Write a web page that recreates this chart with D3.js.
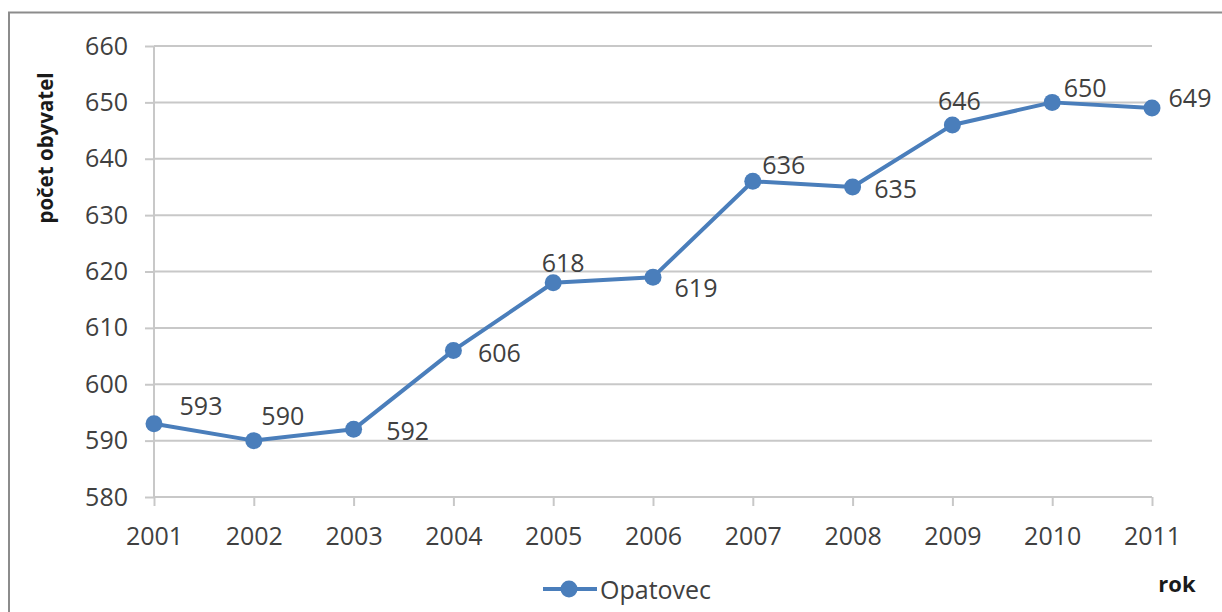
<!DOCTYPE html>
<html><head><meta charset="utf-8">
<script src="https://cdn.jsdelivr.net/npm/d3@7"></script>
<style>body{margin:0;background:#fff}svg{display:block}</style>
</head><body>
<svg id="c" width="1222" height="612"></svg>
<script>
const years = ["2001","2002","2003","2004","2005","2006","2007","2008","2009","2010","2011"];
const values = [593,590,592,606,618,619,636,635,646,650,649];
const yTicks = [580,590,600,610,620,630,640,650,660];
// data label offsets from each point (dx, dy)
const labelDx = [47, 29, 54, 46, 10, 43, 31, 43, 7, 33, 38];
const labelDy = [-19, -26, 1, 2, -21, 10, -17, 1, -25, -15, -11];
const seriesName = "Opatovec";
const yTitle = "počet obyvatel";
const xTitle = "rok";

const svg = d3.select("#c");
const font = "'Open Sans', 'Liberation Sans', sans-serif";
const color = "#4a7ebb";
const L = 154, R = 1152, T = 46, B = 497;
const fs = 25;

// outer frame
svg.append("rect").attr("x", 9).attr("y", 12.5).attr("width", 1230).attr("height", 620)
  .attr("fill", "none").attr("stroke", "#8c8c8c").attr("stroke-width", 2);

const x = d3.scalePoint().domain(years).range([L, R]);
const y = d3.scaleLinear().domain([580, 660]).range([B, T]);

// gridlines
svg.append("g").selectAll("line").data(yTicks.slice(1)).join("line")
  .attr("x1", L).attr("x2", R).attr("y1", d => y(d)).attr("y2", d => y(d))
  .attr("stroke", "#c8c8c8").attr("stroke-width", 2);

// y axis
const ya = svg.append("g").attr("transform", `translate(${L},0)`)
  .call(d3.axisLeft(y).tickValues(yTicks).tickSize(9).tickPadding(17));
ya.select(".domain").attr("stroke", "#c8c8c8").attr("stroke-width", 2).attr("d", `M0,${T}V${B}`);
ya.selectAll(".tick line").attr("stroke", "#c8c8c8").attr("stroke-width", 2);
ya.selectAll("text").attr("font-family", font).attr("font-size", fs).attr("fill", "#404040");

// x axis
const xa = svg.append("g").attr("transform", `translate(0,${B})`)
  .call(d3.axisBottom(x).tickSize(9).tickPadding(21));
xa.select(".domain").attr("stroke", "#c8c8c8").attr("stroke-width", 2).attr("d", `M${L},0H${R}`);
xa.selectAll(".tick line").attr("stroke", "#c8c8c8").attr("stroke-width", 2);
xa.selectAll("text").attr("font-family", font).attr("font-size", fs).attr("fill", "#404040");

// line
const pts = years.map((yr, i) => ({yr, v: values[i], dx: labelDx[i], dy: labelDy[i]}));
svg.append("path").datum(pts)
  .attr("d", d3.line().x(d => x(d.yr)).y(d => y(d.v)))
  .attr("fill", "none").attr("stroke", color).attr("stroke-width", 4).attr("stroke-linejoin", "round");
svg.append("g").selectAll("circle").data(pts).join("circle")
  .attr("cx", d => x(d.yr)).attr("cy", d => y(d.v)).attr("r", 8.5).attr("fill", color);

// data labels
svg.append("g").selectAll("text").data(pts).join("text")
  .attr("x", d => x(d.yr) + d.dx).attr("y", d => y(d.v) + d.dy)
  .attr("text-anchor", "middle").attr("dominant-baseline", "central")
  .attr("font-family", font).attr("font-size", fs).attr("fill", "#404040")
  .text(d => d.v);

// axis titles
svg.append("text").attr("transform", "translate(45,148) rotate(-90)")
  .attr("text-anchor", "middle").attr("dominant-baseline", "central")
  .attr("font-family", font).attr("font-size", 20.5).attr("font-weight", "bold").attr("fill", "#1a1a1a")
  .text(yTitle);
svg.append("text").attr("x", 1177).attr("y", 583)
  .attr("text-anchor", "middle").attr("dominant-baseline", "central")
  .attr("font-family", font).attr("font-size", 22).attr("font-weight", "bold").attr("fill", "#1a1a1a")
  .text(xTitle);

// legend
const lg = svg.append("g");
lg.append("line").attr("x1", 543).attr("x2", 597).attr("y1", 589).attr("y2", 589)
  .attr("stroke", color).attr("stroke-width", 4);
lg.append("circle").attr("cx", 569).attr("cy", 589).attr("r", 8.5).attr("fill", color);
lg.append("text").attr("x", 600).attr("y", 589).attr("dominant-baseline", "central")
  .attr("font-family", font).attr("font-size", fs).attr("fill", "#404040").text(seriesName);
</script>
</body></html>
